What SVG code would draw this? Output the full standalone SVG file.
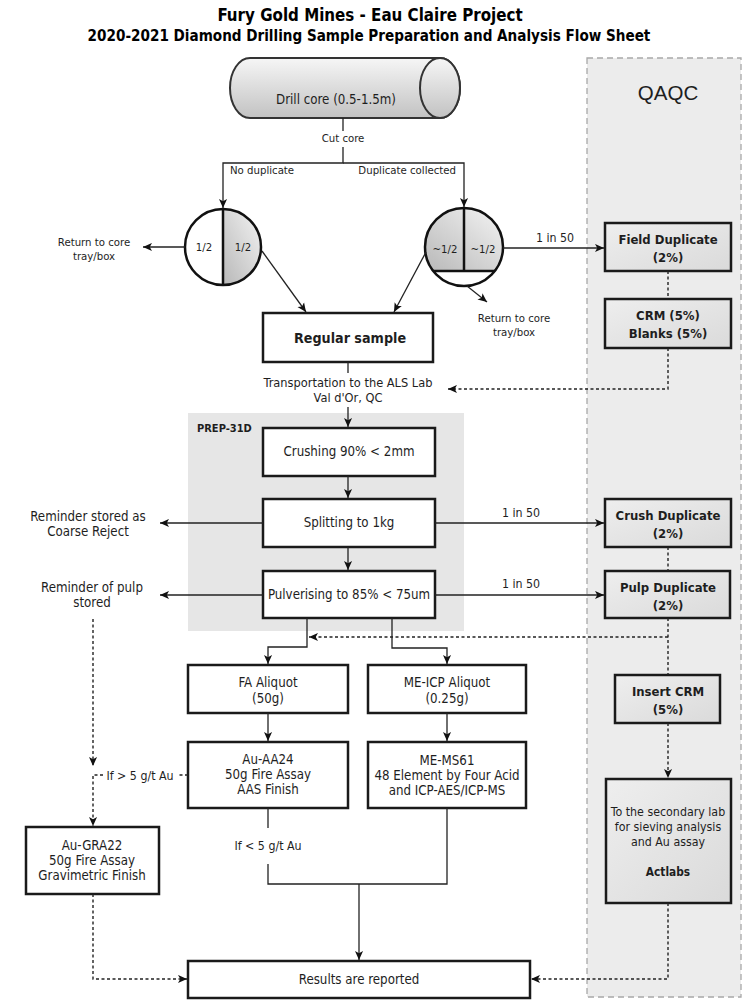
<svg xmlns="http://www.w3.org/2000/svg" width="744" height="1000" viewBox="0 0 744 1000">
<defs>
<linearGradient id="cyl" x1="0" y1="0" x2="0" y2="1">
<stop offset="0" stop-color="#f6f6f6"/><stop offset="1" stop-color="#c2c2c2"/>
</linearGradient>
<linearGradient id="half" x1="1" y1="0" x2="0" y2="1">
<stop offset="0" stop-color="#f4f4f4"/><stop offset="1" stop-color="#b8b8b8"/>
</linearGradient>
<linearGradient id="qg" x1="0" y1="0" x2="1" y2="1">
<stop offset="0" stop-color="#eeeeee"/><stop offset="1" stop-color="#dadada"/>
</linearGradient>
<marker id="ah" viewBox="0 0 10 10" refX="10" refY="5" markerWidth="9" markerHeight="9" orient="auto" markerUnits="userSpaceOnUse">
<path d="M0,0.5 L10,5 L0,9.5 L2.5,5 z" fill="#111"/>
</marker>
</defs>
<style>
text { font-family: "DejaVu Sans Condensed","DejaVu Sans",sans-serif; font-size:12.7px; fill:#1e1e1e; text-anchor:middle; }
.t { font-weight:bold; font-size:16.8px; fill:#000; }
.t2 { font-weight:bold; font-size:15.1px; fill:#000; }
.b { font-weight:bold; }
.s { font-size:11.3px; }
.n { font-size:12.3px; }
.l { font-size:13.2px; }
.qb { font-weight:bold; font-size:13px; }
.box { fill:#fff; stroke:#1a1a1a; stroke-width:2.5; }
.qbox { fill:url(#qg); stroke:#1a1a1a; stroke-width:2.5; }
.ln { fill:none; stroke:#222; stroke-width:1.3; }
.dl { fill:none; stroke:#222; stroke-width:1.4; stroke-dasharray:3 2.5; }
.arr { marker-end:url(#ah); }
</style>

<g id="title">
<text class="t" x="370" y="21">Fury Gold Mines - Eau Claire Project</text>
<text class="t2" x="369" y="41">2020-2021 Diamond Drilling Sample Preparation and Analysis Flow Sheet</text>
</g>

<g id="qaqc-panel">
<rect x="587" y="58" width="154" height="939" fill="#ececec" stroke="#a8a8a8" stroke-width="1.3" stroke-dasharray="6 4"/>
<text x="668" y="100" style="font-family:'Liberation Sans',sans-serif;font-size:20.5px;">QAQC</text>
</g>

<g id="prep-panel">
<rect x="188" y="413" width="276" height="218" fill="#e6e6e6"/>
<text x="197" y="432" class="b" style="font-size:11px;text-anchor:start;">PREP-31D</text>
</g>

<g id="drill-core">
<path d="M250,58 H440 A20,30 0 0 1 440,118 H250 A20,30 0 0 1 250,58 Z" fill="url(#cyl)" stroke="#333" stroke-width="2"/>
<ellipse cx="440" cy="88" rx="20" ry="30" fill="url(#cyl)" stroke="#333" stroke-width="2"/>
<text x="336" y="104" class="l">Drill core (0.5-1.5m)</text>
</g>

<g id="half-split">
<circle cx="223" cy="247" r="38" fill="#fff"/>
<path d="M223,209 A38,38 0 0 1 223,285 Z" fill="url(#half)"/>
<circle cx="223" cy="247" r="38" fill="none" stroke="#111" stroke-width="2.5"/>
<line x1="223" y1="209" x2="223" y2="285" stroke="#111" stroke-width="2.5"/>
<text x="204" y="251" class="s">1/2</text>
<text x="243" y="251" class="s">1/2</text>
</g>

<g id="dup-split">
<circle cx="464" cy="247" r="39" fill="#fff"/>
<path d="M433.3,271 A39,39 0 1 1 494.7,271 Z" fill="url(#half)"/>
<circle cx="464" cy="247" r="39" fill="none" stroke="#111" stroke-width="2.5"/>
<line x1="464" y1="208" x2="464" y2="271" stroke="#111" stroke-width="2.5"/>
<line x1="433.3" y1="271" x2="494.7" y2="271" stroke="#111" stroke-width="2.5"/>
<text x="445" y="253" class="s">~1/2</text>
<text x="483" y="253" class="s">~1/2</text>
</g>

<g id="regular-sample">
<rect class="box" x="263" y="313" width="170" height="49"/>
<text x="350" y="343" class="b" style="font-size:14.2px;">Regular sample</text>
</g>

<g id="crushing">
<rect class="box" x="263" y="428" width="172" height="48"/>
<text x="349" y="456" class="l">Crushing 90% &lt; 2mm</text>
</g>
<g id="splitting">
<rect class="box" x="263" y="499" width="172" height="48"/>
<text x="349" y="527" class="l">Splitting to 1kg</text>
</g>
<g id="pulverising">
<rect class="box" x="263" y="571" width="172" height="47"/>
<text x="349" y="599" class="l">Pulverising to 85% &lt; 75um</text>
</g>

<g id="fa-aliquot">
<rect class="box" x="188" y="665" width="160" height="48"/>
<text x="268" y="687" class="l">FA Aliquot</text>
<text x="268" y="703" class="l">(50g)</text>
</g>
<g id="me-icp-aliquot">
<rect class="box" x="368" y="665" width="158" height="48"/>
<text x="447" y="687" class="l">ME-ICP Aliquot</text>
<text x="447" y="703" class="l">(0.25g)</text>
</g>
<g id="au-aa24">
<rect class="box" x="188" y="742" width="160" height="66"/>
<text x="268" y="764" class="l">Au-AA24</text>
<text x="268" y="779" class="l">50g Fire Assay</text>
<text x="268" y="794" class="l">AAS Finish</text>
</g>
<g id="me-ms61">
<rect class="box" x="368" y="742" width="158" height="66"/>
<text x="447" y="765" class="l">ME-MS61</text>
<text x="447" y="780" class="l">48 Element by Four Acid</text>
<text x="447" y="795" class="l">and ICP-AES/ICP-MS</text>
</g>
<g id="au-gra22">
<rect class="box" x="26" y="827" width="133" height="67"/>
<text x="92" y="850" class="l">Au-GRA22</text>
<text x="92" y="865" class="l">50g Fire Assay</text>
<text x="92" y="880" class="l">Gravimetric Finish</text>
</g>
<g id="results">
<rect class="box" x="188" y="961" width="342" height="37"/>
<text x="359" y="984" class="l">Results are reported</text>
</g>

<g id="field-duplicate">
<rect class="qbox" x="605" y="223" width="126" height="48"/>
<text x="668" y="244" class="qb">Field Duplicate</text>
<text x="668" y="262" class="qb">(2%)</text>
</g>
<g id="crm-blanks">
<rect class="qbox" x="605" y="299" width="126" height="49"/>
<text x="668" y="320" class="qb">CRM (5%)</text>
<text x="668" y="338" class="qb">Blanks (5%)</text>
</g>
<g id="crush-duplicate">
<rect class="qbox" x="605" y="499" width="126" height="48"/>
<text x="668" y="520" class="qb">Crush Duplicate</text>
<text x="668" y="538" class="qb">(2%)</text>
</g>
<g id="pulp-duplicate">
<rect class="qbox" x="605" y="571" width="125" height="47"/>
<text x="668" y="592" class="qb">Pulp Duplicate</text>
<text x="668" y="610" class="qb">(2%)</text>
</g>
<g id="insert-crm">
<rect class="qbox" x="615" y="675" width="105" height="48"/>
<text x="668" y="696" class="qb">Insert CRM</text>
<text x="668" y="714" class="qb">(5%)</text>
</g>
<g id="secondary-lab">
<rect class="qbox" x="606" y="779" width="125" height="124"/>
<text x="668" y="816" style="font-size:12.3px;">To the secondary lab</text>
<text x="668" y="831" style="font-size:12.3px;">for sieving analysis</text>
<text x="668" y="846" style="font-size:12.3px;">and Au assay</text>
<text x="668" y="876" class="b" style="font-size:11.8px;">Actlabs</text>
</g>

<g id="labels">
<text x="343" y="142" class="s">Cut core</text>
<text x="230" y="174" class="s" style="text-anchor:start;">No duplicate</text>
<text x="456" y="174" class="s" style="text-anchor:end;">Duplicate collected</text>
<text x="94" y="246" class="s">Return to core</text>
<text x="94" y="260" class="s">tray/box</text>
<text x="514" y="322" class="s">Return to core</text>
<text x="514" y="336" class="s">tray/box</text>
<text x="555" y="242" class="n">1 in 50</text>
<text x="348" y="387">Transportation to the ALS Lab</text>
<text x="348" y="402">Val d'Or, QC</text>
<text x="88" y="521" class="l">Reminder stored as</text>
<text x="88" y="536" class="l">Coarse Reject</text>
<text x="92" y="592" class="l">Reminder of pulp</text>
<text x="92" y="607" class="l">stored</text>
<text x="521" y="517" class="n">1 in 50</text>
<text x="521" y="588" class="n">1 in 50</text>
<text x="140" y="780" class="n">If &gt; 5 g/t Au</text>
<text x="268" y="850" class="n">If &lt; 5 g/t Au</text>
</g>

<g id="connectors">
<path class="ln" d="M343,118 V131"/>
<path class="ln arr" d="M343,147 V163 H223 V208"/>
<path class="ln arr" d="M343,163 H464 V207"/>
<path class="ln arr" d="M185,247 H143"/>
<path class="ln arr" d="M262,251 L306,312"/>
<path class="ln arr" d="M426,252 L394,312"/>
<path class="ln arr" d="M467,286 L487,302"/>
<path class="ln arr" d="M503,248 H604"/>
<path class="ln" d="M348,362 V373"/>
<path class="ln arr" d="M348,407 V427"/>
<path class="ln arr" d="M348,476 V498"/>
<path class="ln arr" d="M348,547 V570"/>
<path class="ln arr" d="M263,523 H160"/>
<path class="ln arr" d="M263,595 H160"/>
<path class="ln arr" d="M435,523 H604"/>
<path class="ln arr" d="M435,595 H604"/>
<path class="ln arr" d="M307,618 V647 H268 V664"/>
<path class="ln arr" d="M392,618 V648 H447 V664"/>
<path class="ln arr" d="M268,713 V741"/>
<path class="ln arr" d="M447,713 V741"/>
<path class="ln" d="M268,808 V828"/>
<path class="ln" d="M268,864 V884 H447 V808"/>
<path class="ln arr" d="M359,884 V960"/>
<path class="dl" d="M668,271 V299"/>
<path class="dl arr" d="M668,348 V389 H448"/>
<path class="dl" d="M668,547 V571"/>
<path class="dl" d="M668,618 V675"/>
<path class="dl arr" d="M668,637 H309"/>
<path class="dl arr" d="M668,723 V778"/>
<path class="dl arr" d="M668,903 V979 H531"/>
<path class="dl arr" d="M93,619 V766"/>
<path class="dl" d="M188,775 H177"/>
<path class="dl arr" d="M103,775 H93 V826"/>
<path class="dl arr" d="M93,894 V979 H187"/>
</g>
</svg>
